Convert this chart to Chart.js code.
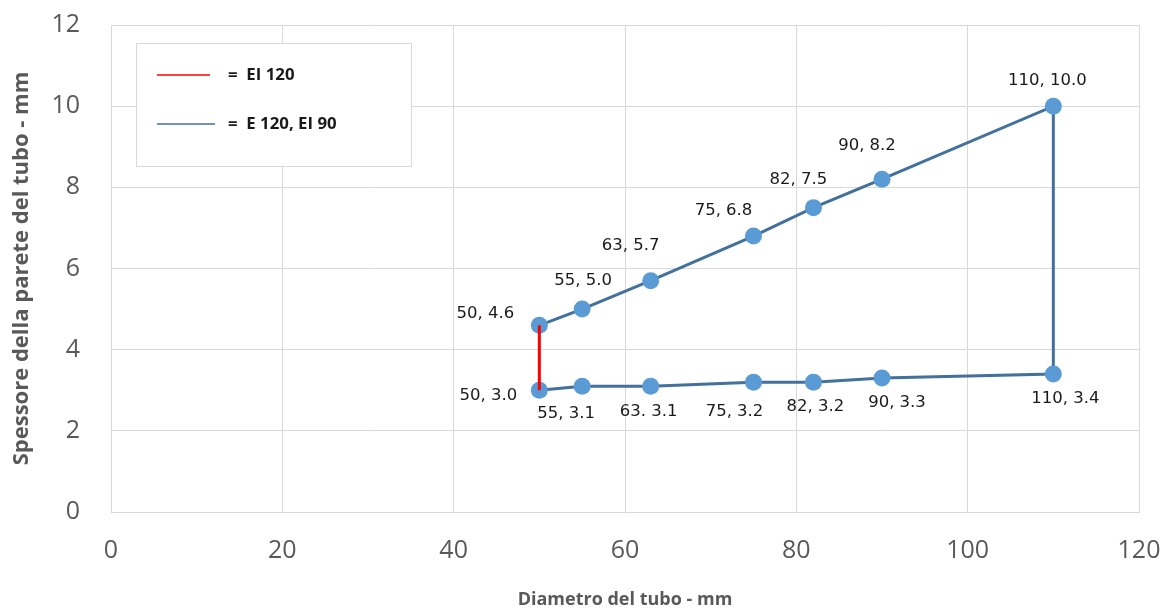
<!DOCTYPE html>
<html>
<head>
<meta charset="utf-8">
<script src="https://cdn.jsdelivr.net/npm/chart.js@4"></script>
<style>
  html, body { margin: 0; padding: 0; background: #fff; }
  #wrap { width: 1167px; height: 612px; }
</style>
</head>
<body>
<div id="wrap"><canvas id="myChart" width="1167" height="612"></canvas></div>
<script>
// diametro (mm) e spessore (mm), lato superiore e inferiore
const upperDiam = [50, 55, 63, 75, 82, 90, 110];
const upperWall = [4.6, 5.0, 5.7, 6.8, 7.5, 8.2, 10.0];
const upperLabels = ['50, 4.6', '55, 5.0', '63, 5.7', '75, 6.8', '82, 7.5', '90, 8.2', '110, 10.0'];

const lowerDiam = [50, 55, 63, 75, 82, 90, 110];
const lowerWall = [3.0, 3.1, 3.1, 3.2, 3.2, 3.3, 3.4];
const lowerLabels = ['50, 3.0', '55, 3.1', '63. 3.1', '75, 3.2', '82, 3.2', '90, 3.3', '110, 3.4'];

const redDiam = [50, 50];
const redWall = [3.0, 4.6];

const xTicks = [0, 20, 40, 60, 80, 100, 120];
const yTicks = [0, 2, 4, 6, 8, 10, 12];

// label offsets in px (layout only)
const upperOffsets = [[-54, -11], [1, -28], [-20, -35], [-30, -25], [-15, -28], [-15, -33], [-6, -25]];
const lowerOffsets = [[-51, 6], [-16, 28], [-2, 26], [-19, 30], [2, 25], [15, 25], [12, 25]];

const toPts = (xs, ys) => xs.map((x, i) => ({ x: x, y: ys[i] }));

// blue outline: upper side, then lower side back
const bluePts = toPts(upperDiam, upperWall).concat(toPts(lowerDiam, lowerWall).reverse());
const blueLabels = upperLabels.concat(lowerLabels.slice().reverse());
const blueOffsets = upperOffsets.concat(lowerOffsets.slice().reverse());

const BLUE_LINE = '#41719C';
const BLUE_DOT = '#5B9BD5';
const GRID = '#d9d9d9';

// text stretched sideways like the original export
function wideText(ctx, txt, x, y, sx) {
  ctx.save();
  ctx.translate(x, y);
  ctx.scale(sx, 1);
  ctx.fillText(txt, 0, 0);
  ctx.restore();
}

const pointLabels = {
  id: 'pointLabels',
  afterDatasetsDraw(chart) {
    const meta = chart.getDatasetMeta(1);
    const ctx = chart.ctx;
    ctx.save();
    ctx.font = '15px "DejaVu Sans"';
    ctx.fillStyle = '#1a1a1a';
    ctx.textAlign = 'center';
    ctx.textBaseline = 'middle';
    const seen = {};
    meta.data.forEach((el, i) => {
      const txt = blueLabels[i];
      if (seen[txt]) return;
      seen[txt] = true;
      const off = blueOffsets[i];
      wideText(ctx, txt, el.x + off[0], el.y + off[1], 1.1);
    });
    ctx.restore();
  }
};

const boxLegend = {
  id: 'boxLegend',
  afterDraw(chart) {
    const ctx = chart.ctx;
    ctx.save();
    ctx.fillStyle = '#fff';
    ctx.fillRect(136, 43, 275, 123);
    ctx.strokeStyle = GRID;
    ctx.lineWidth = 1;
    ctx.strokeRect(136.5, 43.5, 275, 123);
    ctx.font = 'bold 16px "Open Sans"';
    ctx.fillStyle = '#1a1a1a';
    ctx.textBaseline = 'middle';
    ctx.textAlign = 'left';
    const rows = [{ ds: 0, y: 75, x2: 210 }, { ds: 1, y: 124, x2: 215 }];
    rows.forEach(r => {
      const ds = chart.data.datasets[r.ds];
      ctx.strokeStyle = ds.borderColor;
      ctx.lineWidth = 1.5;
      ctx.beginPath();
      ctx.moveTo(157, r.y);
      ctx.lineTo(r.x2, r.y);
      ctx.stroke();
      wideText(ctx, '=  ' + ds.label, 228, r.y, 1.05);
    });
    ctx.restore();
  }
};

const ctx = document.getElementById('myChart').getContext('2d');
const chart = new Chart(ctx, {
  type: 'scatter',
  data: {
    datasets: [
      {
        label: 'EI 120',
        data: toPts(redDiam, redWall),
        showLine: true,
        borderColor: '#FF0000',
        borderWidth: 3,
        pointRadius: 0,
        order: 0,
      },
      {
        label: 'E 120, EI 90',
        data: bluePts,
        showLine: true,
        borderColor: BLUE_LINE,
        borderWidth: 3,
        pointRadius: 8.5,
        pointBackgroundColor: BLUE_DOT,
        pointBorderWidth: 0,
        order: 1,
      },
    ],
  },
  options: {
    responsive: false,
    animation: false,
    events: [],
    layout: { padding: { top: 25, right: 28, left: 0, bottom: 0 } },
    plugins: {
      legend: { display: false },
      tooltip: { enabled: false },
    },
    scales: {
      x: {
        type: 'linear',
        min: 0,
        max: 120,
        afterFit: (scale) => {
          scale.height = 100;
          scale.paddingLeft = 0;
          scale.paddingRight = 0;
        },
        afterBuildTicks: (scale) => { scale.ticks = xTicks.map(v => ({ value: v })); },
        grid: { color: GRID, drawTicks: false },
        border: { color: GRID },
        ticks: { color: '#595959', font: { family: 'Open Sans', size: 25 }, padding: 24 },
        title: {
          display: true,
          text: 'Diametro del tubo - mm',
          color: '#595959',
          font: { family: 'Open Sans', size: 18, weight: 'bold' },
          padding: { top: 0, bottom: 1 },
        },
      },
      y: {
        type: 'linear',
        min: 0,
        max: 12,
        afterFit: (scale) => {
          scale.width = 111;
          scale.paddingTop = 0;
          scale.paddingBottom = 0;
        },
        afterBuildTicks: (scale) => { scale.ticks = yTicks.map(v => ({ value: v })); },
        grid: { color: GRID, drawTicks: false },
        border: { color: GRID },
        ticks: { color: '#595959', font: { family: 'Open Sans', size: 25 }, padding: 31 },
        title: {
          display: true,
          text: 'Spessore della parete del tubo - mm',
          color: '#595959',
          font: { family: 'Open Sans', size: 22, weight: 'bold' },
          padding: { top: 9, bottom: 0 },
        },
      },
    },
  },
  plugins: [pointLabels, boxLegend],
});
</script>
</body>
</html>
